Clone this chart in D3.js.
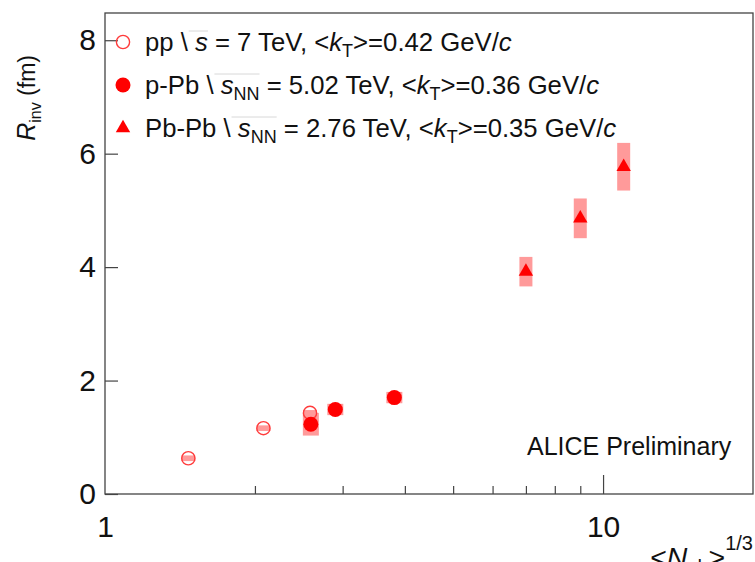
<!DOCTYPE html>
<html>
<head>
<meta charset="utf-8">
<script src="https://cdn.jsdelivr.net/npm/d3@7"></script>
<style>
  html, body { margin: 0; padding: 0; background: #fff; }
  svg { display: block; font-family: "Liberation Sans", Arial, Helvetica, sans-serif; }
</style>
</head>
<body>
<svg id="chart" width="755" height="562"></svg>
<script>
// ---- data ----
const ppX   = [1.47, 2.08, 2.58];
const ppY   = [0.63, 1.16, 1.43];
const ppSys = [0.05, 0.05, 0.05];

const pPbX   = [2.59, 2.90, 3.81];
const pPbY   = [1.23, 1.49, 1.70];
const pPbSys = [0.20, 0.10, 0.10];

const PbPbX   = [7.0, 9.0, 11.0];
const PbPbY   = [3.92, 4.86, 5.77];
const PbPbSys = [0.26, 0.35, 0.42];

const xTickValues = [1, 2, 3, 4, 5, 6, 7, 8, 9, 10];
const xTickLabels = {1: "1", 10: "10"};
const yTickValues = [0, 2, 4, 6, 8];

const legendRows = [
  {marker: "open",     sys: "pp",    sqrt: "s", sub: "",   text: " = 7 TeV, <", kt: "0.42"},
  {marker: "circle",   sys: "p-Pb",  sqrt: "s", sub: "NN", text: " = 5.02 TeV, <", kt: "0.36"},
  {marker: "triangle", sys: "Pb-Pb", sqrt: "s", sub: "NN", text: " = 2.76 TeV, <", kt: "0.35"}
];

// ---- layout ----
const svg = d3.select("#chart");
const L = 105, R = 753, T = 13, B = 494;
const x = d3.scaleLog().domain([1, 20]).range([L, R]);
const y = d3.scaleLinear().domain([0, 8.48]).range([B, T]);
const RED = "#ff0000";
const BOX = "#ff9a9a";

// frame
svg.append("rect").attr("x", L).attr("y", T).attr("width", R - L).attr("height", B - T)
  .attr("fill", "none").attr("stroke", "#444").attr("stroke-width", 1.3);

// x axis
const xAxis = d3.axisBottom(x).tickValues(xTickValues)
  .tickSizeInner(-8).tickSizeOuter(0).tickPadding(22)
  .tickFormat(d => xTickLabels[d] || "");
const gx = svg.append("g").attr("transform", `translate(0,${B})`).call(xAxis);
gx.select(".domain").remove();
gx.selectAll(".tick line").attr("stroke", "#444").attr("stroke-width", 1.2)
  .attr("y2", d => d === 10 ? -19 : (d === 1 ? 0 : -8));
gx.selectAll(".tick text").attr("font-size", 30).attr("fill", "#111")
  .attr("font-family", "Liberation Sans, Arial, sans-serif");

// y axis
const yAxis = d3.axisLeft(y).tickValues(yTickValues)
  .tickSizeInner(-13).tickSizeOuter(0).tickPadding(9)
  .tickFormat(d3.format("d"));
const gy = svg.append("g").attr("transform", `translate(${L},0)`).call(yAxis);
gy.select(".domain").remove();
gy.selectAll(".tick line").attr("stroke", "#444").attr("stroke-width", 1.2);
gy.selectAll(".tick text").attr("font-size", 30).attr("fill", "#111")
  .attr("font-family", "Liberation Sans, Arial, sans-serif");

// axis titles
const yt = svg.append("text").attr("transform", "translate(35,55) rotate(-90)")
  .attr("text-anchor", "end").attr("font-size", 23).attr("fill", "#111");
yt.append("tspan").attr("font-style", "italic").attr("font-size", 25).text("R");
yt.append("tspan").attr("font-size", 16).attr("dy", 6).text("inv");
yt.append("tspan").attr("dy", -6).text(" (fm)");

const xt = svg.append("text").attr("x", 753).attr("y", 567)
  .attr("text-anchor", "end").attr("font-size", 28.5).attr("fill", "#111");
xt.append("tspan").text("<");
xt.append("tspan").attr("font-style", "italic").text("N");
xt.append("tspan").attr("font-size", 20).attr("dy", 7).text("ch");
xt.append("tspan").attr("dy", -7).text(">");
xt.append("tspan").attr("font-size", 20).attr("dy", -17).text("1/3");

// ALICE label
svg.append("text").attr("x", 527).attr("y", 455).attr("font-size", 25).attr("fill", "#111")
  .text("ALICE Preliminary");

// systematic boxes
function boxes(xs, ys, ss, hw) {
  svg.append("g").selectAll("rect").data(xs.map((d, i) => ({x: d, y: ys[i], s: ss[i]})))
    .join("rect")
    .attr("x", d => x(d.x) - hw).attr("width", 2 * hw)
    .attr("y", d => y(d.y + d.s)).attr("height", d => y(d.y - d.s) - y(d.y + d.s))
    .attr("fill", BOX);
}
boxes(ppX, ppY, ppSys, 7);
boxes(pPbX, pPbY, pPbSys, 8);
boxes(PbPbX, PbPbY, PbPbSys, 6.5);

// markers
const triPath = d3.symbol().type(d3.symbolTriangle).size(90);
function drawMarker(g, type, cx, cy) {
  if (type === "open") {
    g.append("circle").attr("cx", cx).attr("cy", cy).attr("r", 6.6)
      .attr("fill", "none").attr("stroke", "#ff3b3b").attr("stroke-width", 1.4);
  } else if (type === "circle") {
    g.append("circle").attr("cx", cx).attr("cy", cy).attr("r", 7.5).attr("fill", RED);
  } else {
    g.append("path").attr("d", triPath()).attr("transform", `translate(${cx},${cy})`).attr("fill", RED);
  }
}
const gm = svg.append("g");
ppX.forEach((d, i) => drawMarker(gm, "open", x(d), y(ppY[i])));
pPbX.forEach((d, i) => drawMarker(gm, "circle", x(d), y(pPbY[i])));
PbPbX.forEach((d, i) => drawMarker(gm, "triangle", x(d), y(PbPbY[i])));

// legend
const legY = [42, 85, 128];
legendRows.forEach((r, i) => {
  const gl = svg.append("g");
  drawMarker(gl, r.marker, 123, legY[i]);
  const t = gl.append("text").attr("x", 145).attr("y", legY[i] + 9)
    .attr("font-size", 25.7).attr("fill", "#111");
  t.append("tspan").text(r.sys + " ");
  const bs = t.append("tspan").text("\\");
  let last = t.append("tspan").attr("font-style", "italic").text(" " + r.sqrt);
  if (r.sub) last = t.append("tspan").attr("font-size", 18).attr("dy", 6).text(r.sub);
  t.append("tspan").attr("dy", r.sub ? -6 : 0).text(r.text);
  t.append("tspan").attr("font-style", "italic").text("k");
  t.append("tspan").attr("font-size", 18).attr("dy", 6).text("T");
  t.append("tspan").attr("dy", -6).text(">=" + r.kt + " GeV/");
  t.append("tspan").attr("font-style", "italic").text("c");
  // faint overline of the square-root sign
  const b0 = bs.node().getBBox(), b1 = last.node().getBBox();
  gl.append("line").attr("x1", b0.x + b0.width).attr("x2", b1.x + b1.width)
    .attr("y1", b0.y + 3).attr("y2", b0.y + 3)
    .attr("stroke", "#d8d8d8").attr("stroke-width", 1);
});
</script>
</body>
</html>
